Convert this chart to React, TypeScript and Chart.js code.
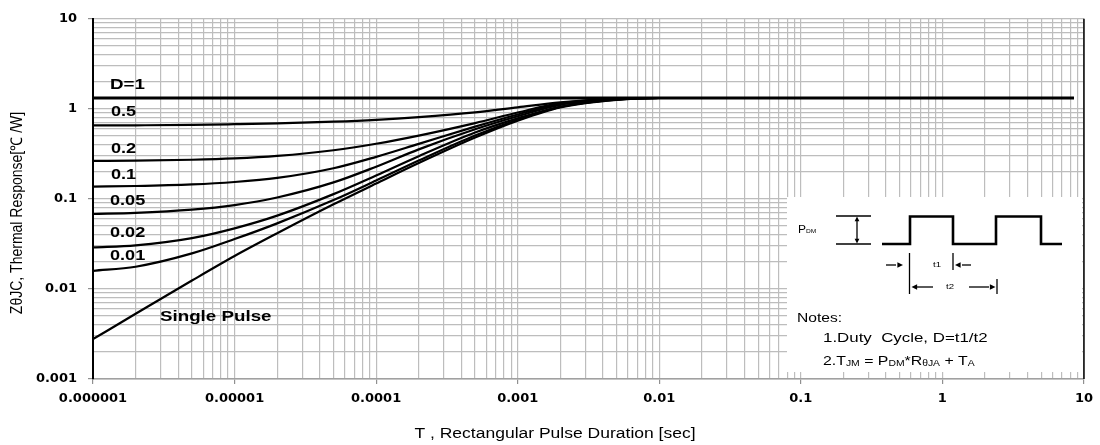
import React, { useEffect, useRef } from 'react';
import { Chart, registerables } from 'chart.js';

Chart.register(...registerables);

// ---- data ----
const PULSE_T = [1e-6, 2e-6, 5e-6, 1e-5, 2e-5, 5e-5, 1e-4, 2e-4, 5e-4, 1e-3, 2e-3, 5e-3, 1e-2, 8.5];
const D_1 = [1.32, 1.32, 1.32, 1.32, 1.32, 1.32, 1.32, 1.32, 1.32, 1.32, 1.32, 1.32, 1.32, 1.32];
const D_05 = [0.655, 0.657, 0.663, 0.675, 0.69, 0.72, 0.755, 0.81, 0.915, 1.04, 1.18, 1.3, 1.32, 1.32];
const D_02 = [0.264, 0.266, 0.272, 0.2815, 0.3, 0.347, 0.41, 0.505, 0.695, 0.91, 1.16, 1.29, 1.32, 1.32];
const D_01 = [0.137, 0.139, 0.1447, 0.154, 0.171, 0.219, 0.293, 0.408, 0.634, 0.866, 1.135, 1.283, 1.32, 1.32];
const D_005 = [0.068, 0.0699, 0.0759, 0.0854, 0.1037, 0.1524, 0.228, 0.355, 0.593, 0.827, 1.107, 1.275, 1.32, 1.32];
const D_002 = [0.0289, 0.0305, 0.0367, 0.0471, 0.0652, 0.113, 0.182, 0.298, 0.546, 0.783, 1.055, 1.27, 1.32, 1.32];
const D_001 = [0.0159, 0.01765, 0.0248, 0.0358, 0.0535, 0.097, 0.16, 0.267, 0.507, 0.757, 1.05, 1.265, 1.32, 1.32];
const SINGLE = [0.00277, 0.0053, 0.0124, 0.0232, 0.0415, 0.087, 0.148, 0.25, 0.48, 0.74, 1.04, 1.26, 1.32, 1.32];

const SERIES_NAMES = ['D=1', '0.5', '0.2', '0.1', '0.05', '0.02', '0.01', 'Single Pulse'];
const SERIES_VALUES = [D_1, D_05, D_02, D_01, D_005, D_002, D_001, SINGLE];

const X_TICK_LABELS = ['0.000001', '0.00001', '0.0001', '0.001', '0.01', '0.1', '1', '10'];
const Y_TICK_LABELS = ['0.001', '0.01', '0.1', '1', '10'];

const X_TITLE = 'T , Rectangular Pulse Duration [sec]';
const Y_TITLE = 'ZθJC, Thermal Response[℃ /W]';

const SANS = '"Liberation Sans", Arial, sans-serif';
const TICK_FONT = '"DejaVu Sans", Verdana, sans-serif';
const SX = 1.25;

function isDecade(v: number) {
  const l = Math.log10(v);
  return Math.abs(l - Math.round(l)) < 1e-9;
}

function labelFor(labels: string[], v: number) {
  if (!isDecade(v)) return '';
  const e = Math.round(Math.log10(v));
  const found = labels.find((s) => Math.round(Math.log10(Number(s))) === e);
  return found ?? '';
}

function buildLogTicks(labels: string[]) {
  const majors = labels.map(Number);
  const ticks: { value: number; major: boolean }[] = [];
  for (let i = 0; i < majors.length - 1; i++) {
    for (let m = 1; m <= 9; m++) ticks.push({ value: m * majors[i], major: m === 1 });
  }
  ticks.push({ value: majors[majors.length - 1], major: true });
  return ticks;
}

function txt(ctx: CanvasRenderingContext2D, s: string, x: number, y: number, font: string, align: CanvasTextAlign = 'left', sx = SX) {
  ctx.save();
  ctx.translate(x, y);
  ctx.scale(sx, 1);
  ctx.font = font;
  ctx.textAlign = align;
  ctx.textBaseline = 'middle';
  ctx.fillStyle = '#000';
  ctx.fillText(s, 0, 0);
  ctx.restore();
}

function rich(ctx: CanvasRenderingContext2D, segs: { s: string; size: number; dy: number }[], x: number, y: number, sx = SX) {
  ctx.save();
  ctx.translate(x, y);
  ctx.scale(sx, 1);
  ctx.textAlign = 'left';
  ctx.textBaseline = 'middle';
  ctx.fillStyle = '#000';
  let cx = 0;
  for (const g of segs) {
    ctx.font = `${g.size}px ${SANS}`;
    ctx.fillText(g.s, cx, g.dy);
    cx += ctx.measureText(g.s).width;
  }
  ctx.restore();
}

function line(ctx: CanvasRenderingContext2D, x1: number, y1: number, x2: number, y2: number) {
  ctx.beginPath();
  ctx.moveTo(x1, y1);
  ctx.lineTo(x2, y2);
  ctx.stroke();
}

function head(ctx: CanvasRenderingContext2D, x: number, y: number, dir: 'l' | 'r' | 'u' | 'd', s = 4) {
  ctx.beginPath();
  if (dir === 'r') { ctx.moveTo(x, y); ctx.lineTo(x - s * 1.6, y - s * 0.8); ctx.lineTo(x - s * 1.6, y + s * 0.8); }
  if (dir === 'l') { ctx.moveTo(x, y); ctx.lineTo(x + s * 1.6, y - s * 0.8); ctx.lineTo(x + s * 1.6, y + s * 0.8); }
  if (dir === 'u') { ctx.moveTo(x, y); ctx.lineTo(x - s * 0.8, y + s * 1.6); ctx.lineTo(x + s * 0.8, y + s * 1.6); }
  if (dir === 'd') { ctx.moveTo(x, y); ctx.lineTo(x - s * 0.8, y - s * 1.6); ctx.lineTo(x + s * 0.8, y - s * 1.6); }
  ctx.closePath();
  ctx.fill();
}

const decorPlugin = {
  id: 'decor',
  afterDatasetsDraw(chart: any) {
    const ctx: CanvasRenderingContext2D = chart.ctx;
    const a = chart.chartArea;
    ctx.save();
    // right frame line
    ctx.strokeStyle = '#000';
    ctx.lineWidth = 1.5;
    line(ctx, a.right, a.top, a.right, a.bottom);

    // curve labels
    const bold = `bold 14.5px ${SANS}`;
    txt(ctx, SERIES_NAMES[0], a.left + 17, 85, `bold 15px ${SANS}`);
    txt(ctx, SERIES_NAMES[1], a.left + 18, 112, bold);
    txt(ctx, SERIES_NAMES[2], a.left + 18, 149, bold);
    txt(ctx, SERIES_NAMES[3], a.left + 18, 175, bold);
    txt(ctx, SERIES_NAMES[4], a.left + 17, 201, bold);
    txt(ctx, SERIES_NAMES[5], a.left + 17, 233, bold);
    txt(ctx, SERIES_NAMES[6], a.left + 17, 256, bold);
    txt(ctx, SERIES_NAMES[7], a.left + 67, 317, `bold 15px ${SANS}`);

    // inset box
    ctx.fillStyle = '#fff';
    ctx.fillRect(787, 197, 295, 175);
    ctx.fillStyle = '#000';
    ctx.strokeStyle = '#000';

    // P_DM
    rich(ctx, [{ s: 'P', size: 10, dy: 0 }, { s: 'DM', size: 5.5, dy: 1.5 }], 798, 230, 1.2);
    // I-beam
    ctx.lineWidth = 1.3;
    line(ctx, 836, 216, 871, 216);
    line(ctx, 836, 244, 871, 244);
    line(ctx, 857, 220, 857, 240);
    head(ctx, 857, 216.5, 'u', 3);
    head(ctx, 857, 243.5, 'd', 3);

    // waveform
    ctx.lineWidth = 2.6;
    ctx.beginPath();
    const wave: [number, number][] = [[882, 244], [910, 244], [910, 216.5], [953, 216.5], [953, 244], [996, 244], [996, 216.5], [1041, 216.5], [1041, 244], [1062, 244]];
    wave.forEach(([x, y], i) => (i ? ctx.lineTo(x, y) : ctx.moveTo(x, y)));
    ctx.stroke();

    // t1 / t2 dimension marks
    ctx.lineWidth = 1.3;
    line(ctx, 909.5, 253, 909.5, 294);
    line(ctx, 953, 253, 953, 270);
    line(ctx, 886, 265, 896, 265);
    head(ctx, 903, 265, 'r', 3.5);
    line(ctx, 962, 265, 971, 265);
    head(ctx, 955, 265, 'l', 3.5);
    txt(ctx, 't1', 937, 265, `8px ${SANS}`, 'center', 1.2);

    head(ctx, 911.5, 287, 'l', 3.5);
    line(ctx, 917, 287, 933, 287);
    txt(ctx, 't2', 950, 287, `8px ${SANS}`, 'center', 1.2);
    line(ctx, 969, 287, 989, 287);
    head(ctx, 995.5, 287, 'r', 3.5);
    line(ctx, 997, 279, 997, 294);

    // notes
    txt(ctx, 'Notes:', 797, 318, `13px ${SANS}`, 'left', 1.2);
    txt(ctx, '1.Duty  Cycle, D=t1/t2', 823, 338, `13.5px ${SANS}`, 'left', 1.25);
    rich(ctx, [
      { s: '2.T', size: 13, dy: 0 },
      { s: 'JM', size: 8.5, dy: 3 },
      { s: ' = P', size: 13, dy: 0 },
      { s: 'DM', size: 8.5, dy: 3 },
      { s: '*R', size: 13, dy: 0 },
      { s: 'θJA', size: 8.5, dy: 3 },
      { s: ' + T', size: 13, dy: 0 },
      { s: 'A', size: 8.5, dy: 3 },
    ], 823, 361, 1.22);

    // axis titles
    txt(ctx, X_TITLE, 555, 434, `14px ${SANS}`, 'center', 1.25);
    ctx.save();
    ctx.translate(18, 213);
    ctx.scale(1.15, 1);
    ctx.rotate(-Math.PI / 2);
    ctx.font = `14px ${SANS}`;
    ctx.textAlign = 'center';
    ctx.textBaseline = 'middle';
    ctx.fillStyle = '#000';
    ctx.fillText(Y_TITLE, 0, 0);
    ctx.restore();

    ctx.restore();
  },
};

export default function App() {
  const ref = useRef<HTMLCanvasElement | null>(null);

  useEffect(() => {
    document.body.style.margin = '0';
    const canvas = ref.current;
    if (!canvas) return;

    const datasets = SERIES_VALUES.map((vals, i) => ({
      label: SERIES_NAMES[i],
      data: PULSE_T.map((t, j) => ({ x: t, y: vals[j] })),
      borderColor: '#000',
      backgroundColor: '#000',
      borderWidth: i === 0 ? 2.8 : 2.2,
      pointRadius: 0,
      fill: false,
      cubicInterpolationMode: 'monotone' as const,
    }));

    const gridOpts = {
      color: '#bdbdbd',
      lineWidth: 1.2,
      drawTicks: true,
      tickLength: 5,
      tickColor: (c: any) => (c.tick && isDecade(c.tick.value) ? '#909090' : 'rgba(0,0,0,0)'),
    };

    const chart = new Chart(canvas, {
      type: 'line',
      data: { datasets },
      plugins: [decorPlugin],
      options: {
        animation: false,
        responsive: false,
        maintainAspectRatio: false,
        layout: { padding: { top: 14, right: 13, left: 0, bottom: 0 } },
        plugins: { legend: { display: false }, tooltip: { enabled: false }, title: { display: false } },
        scales: {
          x: {
            type: 'logarithmic',
            min: 1e-6,
            max: 10,
            afterBuildTicks: (s: any) => { s.ticks = buildLogTicks(X_TICK_LABELS); },
            afterFit: (s: any) => { s.height = 66; },
            border: { display: true, color: '#a0a0a0', width: 1.5 },
            grid: gridOpts,
            ticks: {
              autoSkip: false,
              maxRotation: 0,
              minRotation: 0,
              padding: 7,
              color: '#000',
              font: { family: TICK_FONT, size: 13, weight: 'bold' },
              callback: (v: any) => labelFor(X_TICK_LABELS, Number(v)),
            },
          },
          y: {
            type: 'logarithmic',
            min: 0.001,
            max: 10,
            afterBuildTicks: (s: any) => { s.ticks = buildLogTicks(Y_TICK_LABELS); },
            afterFit: (s: any) => { s.width = 93; },
            border: { display: true, color: '#000', width: 2 },
            grid: gridOpts,
            ticks: {
              autoSkip: false,
              padding: 11,
              color: '#000',
              font: { family: TICK_FONT, size: 13, weight: 'bold' },
              callback: (v: any) => labelFor(Y_TICK_LABELS, Number(v)),
            },
          },
        },
      },
    } as any);

    return () => chart.destroy();
  }, []);

  return (
    <div style={{ width: 1100, height: 445 }}>
      <canvas ref={ref} width={1100} height={445} style={{ display: 'block', width: 1100, height: 445 }} />
    </div>
  );
}
